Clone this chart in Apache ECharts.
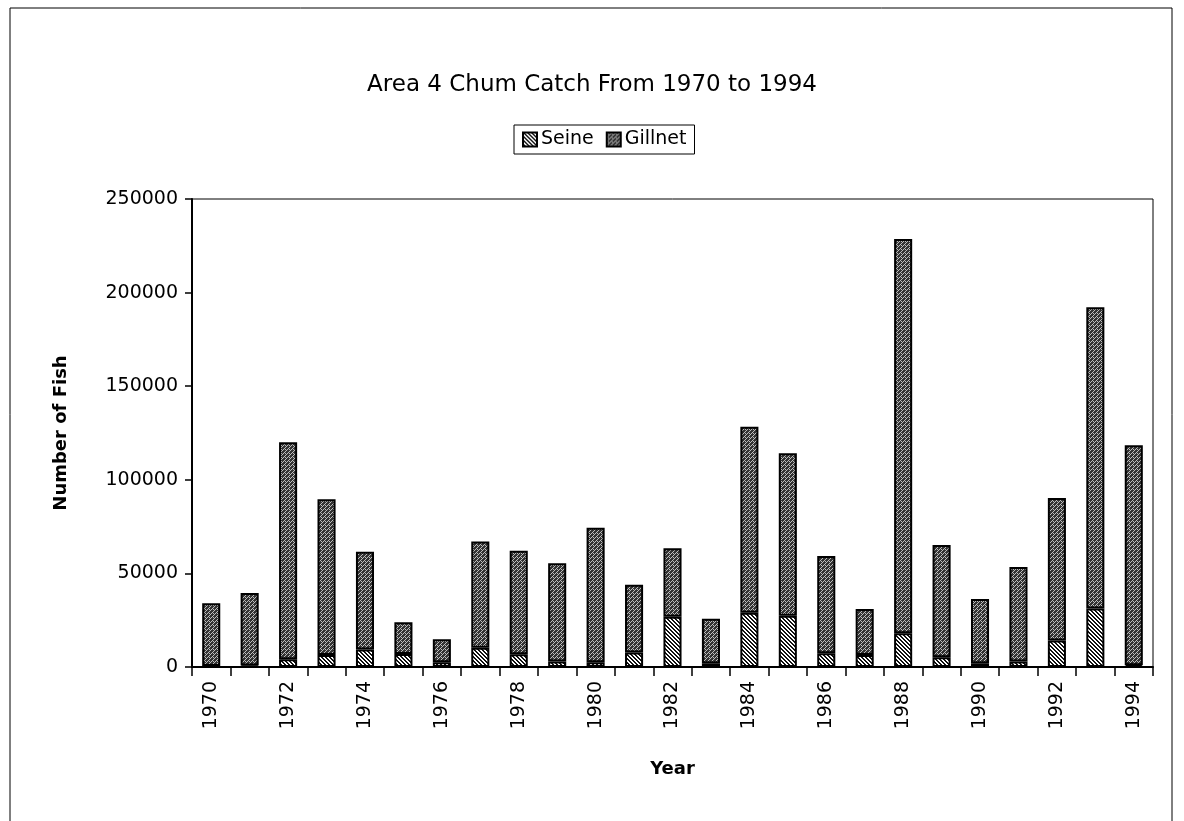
<!DOCTYPE html>
<html>
<head>
<meta charset="utf-8">
<script src="https://cdn.jsdelivr.net/npm/echarts@6/dist/echarts.min.js"></script>
<style>
  html, body { margin: 0; padding: 0; background: #fff; }
  #chart { width: 1184px; height: 821px; }
</style>
</head>
<body>
<div id="chart"></div>
<script>
// years on the x axis
const years = ['1970', '1971', '1972', '1973', '1974', '1975', '1976', '1977', '1978', '1979',
  '1980', '1981', '1982', '1983', '1984', '1985', '1986', '1987', '1988', '1989',
  '1990', '1991', '1992', '1993', '1994'];

// seine catch (bottom of each stack)
const seine = [500, 800, 4100, 6400, 9400, 7000, 2500, 10300, 6800, 3000,
  2500, 7800, 26900, 2000, 29000, 27400, 7300, 6400, 18000, 5200,
  2000, 3000, 14100, 31300, 1000];

// gillnet catch (stacked on top)
const gillnet = [33500, 38700, 115900, 83200, 52200, 16900, 12300, 56800, 55300, 52400,
  71900, 36200, 36500, 23800, 99400, 86800, 52000, 24600, 210600, 60000,
  34300, 50400, 76200, 160900, 117400];

// y axis ticks
const yTicks = [0, 50000, 100000, 150000, 200000, 250000];

// little fill patterns, like the old printer hatching
const makePattern = (kind) => {
  const c = document.createElement('canvas');
  c.width = 4;
  c.height = 4;
  const ctx = c.getContext('2d');
  if (kind === 'seine') {
    ctx.fillStyle = '#ffffff';
    ctx.fillRect(0, 0, 4, 4);
    ctx.fillStyle = '#111111';
    // diagonal stripes
    for (let i = 0; i < 4; i++) {
      ctx.fillRect(i, i, 1, 1);
      ctx.fillRect((i + 1) % 4, i, 1, 1);
    }
  } else {
    ctx.fillStyle = '#333333';
    ctx.fillRect(0, 0, 4, 4);
    ctx.fillStyle = '#bdbdbd';
    ctx.fillRect(0, 0, 1, 1);
    ctx.fillRect(1, 1, 1, 1);
    ctx.fillRect(2, 2, 1, 1);
    ctx.fillRect(3, 1, 1, 1);
    ctx.fillRect(1, 3, 1, 1);
  }
  return { image: c, repeat: 'repeat' };
};

const myChart = echarts.init(document.getElementById('chart'));
const font = 'DejaVu Sans';

const option = {
  backgroundColor: '#fff',
  animation: false,
  title: {
    text: 'Area 4 Chum Catch From 1970 to 1994',
    left: 'center',
    top: 69,
    textStyle: { fontFamily: font, fontSize: 23, fontWeight: 'normal', color: '#000' },
  },
  legend: {
    data: ['Seine', 'Gillnet'],
    left: 514,
    top: 125,
    orient: 'horizontal',
    icon: 'rect',
    borderColor: '#000',
    borderWidth: 1,
    padding: [5, 8, 5, 8],
    itemWidth: 14,
    itemHeight: 14,
    itemGap: 12,
    textStyle: { fontFamily: font, fontSize: 19, color: '#000', padding: [0, 0, 0, -1] },
  },
  grid: {
    left: 192,
    right: 31,
    top: 199,
    bottom: 154,
    show: true,
    borderColor: '#000',
    borderWidth: 1,
  },
  xAxis: {
    type: 'category',
    data: years,
    name: 'Year',
    nameLocation: 'middle',
    nameGap: 93,
    nameTextStyle: { fontFamily: font, fontSize: 18, fontWeight: 'bold', color: '#000' },
    axisLine: { lineStyle: { color: '#000', width: 2 } },
    axisTick: { show: true, interval: 0, length: 9, lineStyle: { color: '#000', width: 1.5 } },
    axisLabel: {
      interval: 1,
      rotate: 90,
      margin: 14,
      fontFamily: font,
      fontSize: 19,
      color: '#000',
    },
  },
  yAxis: {
    type: 'value',
    min: yTicks[0],
    max: yTicks[yTicks.length - 1],
    interval: yTicks[1] - yTicks[0],
    name: 'Number of Fish',
    nameLocation: 'middle',
    nameGap: 122,
    nameTextStyle: { fontFamily: font, fontSize: 18, fontWeight: 'bold', color: '#000' },
    splitLine: { show: false },
    axisLine: { show: true, lineStyle: { color: '#000', width: 2 } },
    axisTick: { show: true, length: 7, lineStyle: { color: '#000', width: 1.5 } },
    axisLabel: {
      margin: 14,
      fontFamily: font,
      fontSize: 19,
      color: '#000',
      formatter: (v) => String(v),
    },
  },
  series: [
    {
      name: 'Seine',
      type: 'bar',
      stack: 'catch',
      data: seine,
      barWidth: '47%',
      itemStyle: { color: makePattern('seine'), borderColor: '#000', borderWidth: 2 },
    },
    {
      name: 'Gillnet',
      type: 'bar',
      stack: 'catch',
      data: gillnet,
      barWidth: '47%',
      itemStyle: { color: makePattern('gillnet'), borderColor: '#000', borderWidth: 2 },
    },
  ],
  graphic: [
    {
      type: 'polyline',
      shape: { points: [[10, 821], [10, 8], [1172, 8], [1172, 821]] },
      style: { stroke: '#000', lineWidth: 1, fill: null },
      silent: true,
    },
  ],
};

option && myChart.setOption(option);
</script>
</body>
</html>
